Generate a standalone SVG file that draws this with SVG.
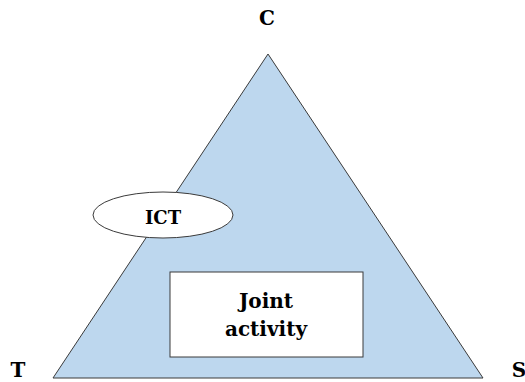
<svg xmlns="http://www.w3.org/2000/svg" width="525" height="382" viewBox="0 0 525 382">
<style>
text{font-family:'DejaVu Serif','Liberation Serif',serif;font-weight:bold;fill:#000;text-anchor:middle}
.shape{stroke:#3a3a3a;stroke-width:1}
</style>
<rect width="525" height="382" fill="#fff"/>
<g id="triangle">
<polygon class="shape" points="268,54 53,378 483,378" fill="#bdd7ee"/>
</g>
<g id="C"><text x="267" y="25" font-size="20">C</text></g>
<g id="T"><text x="18" y="377" font-size="20">T</text></g>
<g id="S"><text x="519" y="377" font-size="20">S</text></g>
<g id="ICT">
<ellipse class="shape" cx="163" cy="215" rx="70" ry="23" fill="#fff"/>
<text x="163" y="224" font-size="18">ICT</text>
</g>
<g id="joint">
<rect class="shape" x="170" y="272" width="193" height="85" fill="#fff"/>
<text x="266" y="308" font-size="20">Joint</text>
<text x="266" y="336" font-size="20">activity</text>
</g>
<g id="connectors"></g>
</svg>
